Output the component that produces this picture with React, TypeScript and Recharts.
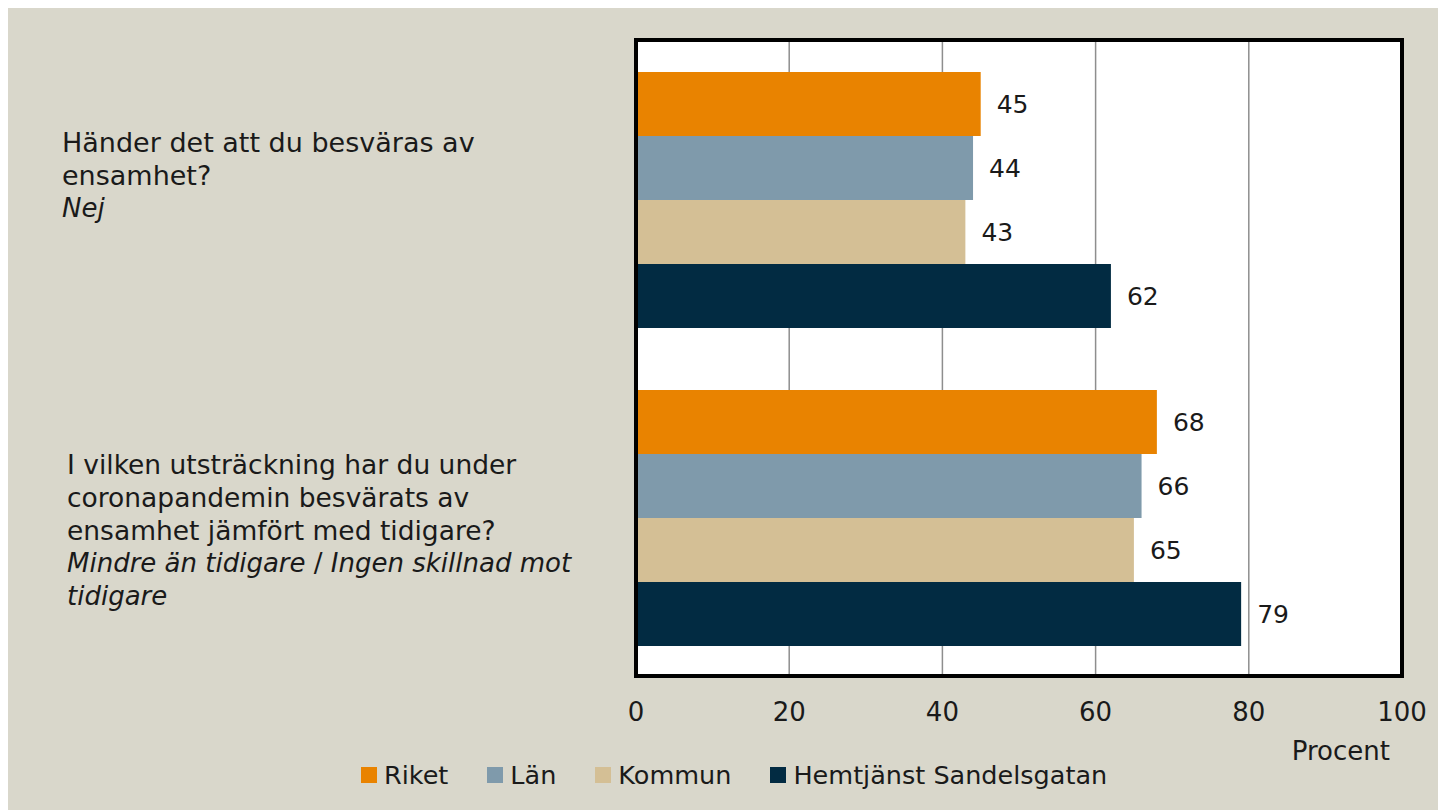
import {
  BarChart,
  Bar,
  XAxis,
  YAxis,
  CartesianGrid,
  Legend,
  LabelList,
  Label,
} from 'recharts';

const questions = ['q1', 'q2'];
const questionLines = [
  ['Händer det att du besväras av', 'ensamhet?'],
  ['I vilken utsträckning har du under', 'coronapandemin besvärats av', 'ensamhet jämfört med tidigare?'],
];
const answerLines = [['Nej'], ['Mindre än tidigare / Ingen skillnad mot', 'tidigare']];

const riket = [45, 68];
const lan = [44, 66];
const kommun = [43, 65];
const hemtjanst = [62, 79];

const xTicks = [0, 20, 40, 60, 80, 100];
const seriesKeys = ['riket', 'lan', 'kommun', 'hemtjanst'];
const seriesNames = ['Riket', 'Län', 'Kommun', 'Hemtjänst Sandelsgatan'];
const seriesColors = ['#e98300', '#7f9aab', '#d4bf95', '#022b42'];

const data = questions.map((q, i) => ({
  question: q,
  riket: riket[i],
  lan: lan[i],
  kommun: kommun[i],
  hemtjanst: hemtjanst[i],
}));

const FONT = '"DejaVu Sans", sans-serif';
const TEXT = '#1a1a1a';
const BG = '#d9d7cb';

// label blocks are not centred on the bar group in the original
const LABEL_SHIFT = [-24, 13];
const LABEL_INDENT = [0, 5];
const LINE_H = 33;

function QuestionTick(props: any) {
  const { x, y, index } = props;
  const lines = [
    ...questionLines[index].map((t) => ({ t, italic: false })),
    ...answerLines[index].map((t) => ({ t, italic: true })),
  ];
  const first = y + LABEL_SHIFT[index] - ((lines.length - 1) * LINE_H) / 2;
  const left = x - 574 + LABEL_INDENT[index];
  return (
    <text fontFamily={FONT} fontSize={index === 0 ? 27 : 26.5} fill={TEXT} textAnchor="start">
      {lines.map((l, k) => {
        if (!l.italic) {
          return (
            <tspan key={k} x={left} y={first + k * LINE_H} dominantBaseline="central">
              {l.t}
            </tspan>
          );
        }
        const parts = l.t.split(' / ');
        return (
          <tspan key={k} x={left} y={first + k * LINE_H} dominantBaseline="central" fontSize={26}>
            {parts.map((p, j) => (
              <tspan key={j}>
                {j > 0 && <tspan fontStyle="normal"> / </tspan>}
                <tspan fontStyle="italic">{p}</tspan>
              </tspan>
            ))}
          </tspan>
        );
      })}
    </text>
  );
}

function LegendContent() {
  return (
    <div
      style={{
        display: 'flex',
        alignItems: 'center',
        gap: 39,
        height: 30,
        fontFamily: FONT,
        fontSize: 25.5,
        color: TEXT,
      }}
    >
      {seriesNames.map((name, i) => (
        <div key={name} style={{ display: 'flex', alignItems: 'center', gap: 7 }}>
          <span style={{ width: 16, height: 16, background: seriesColors[i], display: 'inline-block' }} />
          <span>{name}</span>
        </div>
      ))}
    </div>
  );
}

const border = { stroke: '#000', strokeWidth: 4, strokeLinecap: 'square' as const };

export default function App() {
  return (
    <div style={{ width: 1438, height: 802, background: BG }}>
      <BarChart
        width={1438}
        height={802}
        data={data}
        layout="vertical"
        margin={{ top: 31, right: 43, left: 0, bottom: 20 }}
        barCategoryGap={32}
        barGap={0}
      >
        <CartesianGrid
          horizontal={false}
          stroke="#8e8e8e"
          strokeWidth={1.5}
          fill="#ffffff"
          fillOpacity={1}
        />
        {seriesKeys.map((k, i) => (
          <Bar key={k} dataKey={k} name={seriesNames[i]} fill={seriesColors[i]} isAnimationActive={false}>
            <LabelList
              dataKey={k}
              position="right"
              offset={16}
              fill={TEXT}
              fontSize={25}
              fontFamily={FONT}
            />
          </Bar>
        ))}
        <XAxis
          type="number"
          domain={[0, 100]}
          ticks={xTicks}
          height={84}
          tickSize={0}
          tickMargin={27}
          axisLine={border}
          tick={{ fill: TEXT, fontSize: 26, fontFamily: FONT }}
        >
          <Label
            content={({ viewBox }: any) => (
              <text
                x={viewBox.x + viewBox.width - 12}
                y={viewBox.y + viewBox.height}
                textAnchor="end"
                fill={TEXT}
                fontSize={26}
                fontFamily={FONT}
              >
                Procent
              </text>
            )}
          />
        </XAxis>
        <XAxis
          xAxisId="top"
          orientation="top"
          type="number"
          domain={[0, 100]}
          ticks={xTicks}
          height={1}
          tick={false}
          tickLine={false}
          axisLine={border}
        />
        <YAxis
          type="category"
          dataKey="question"
          width={628}
          tickSize={0}
          tickMargin={0}
          axisLine={border}
          tick={<QuestionTick />}
        />
        <YAxis
          yAxisId="right"
          orientation="right"
          type="category"
          dataKey="question"
          width={1}
          tick={false}
          tickLine={false}
          axisLine={border}
        />
        <Legend
          verticalAlign="bottom"
          content={<LegendContent />}
          wrapperStyle={{ left: 353, width: 'auto', bottom: 20 }}
        />
      </BarChart>
    </div>
  );
}
